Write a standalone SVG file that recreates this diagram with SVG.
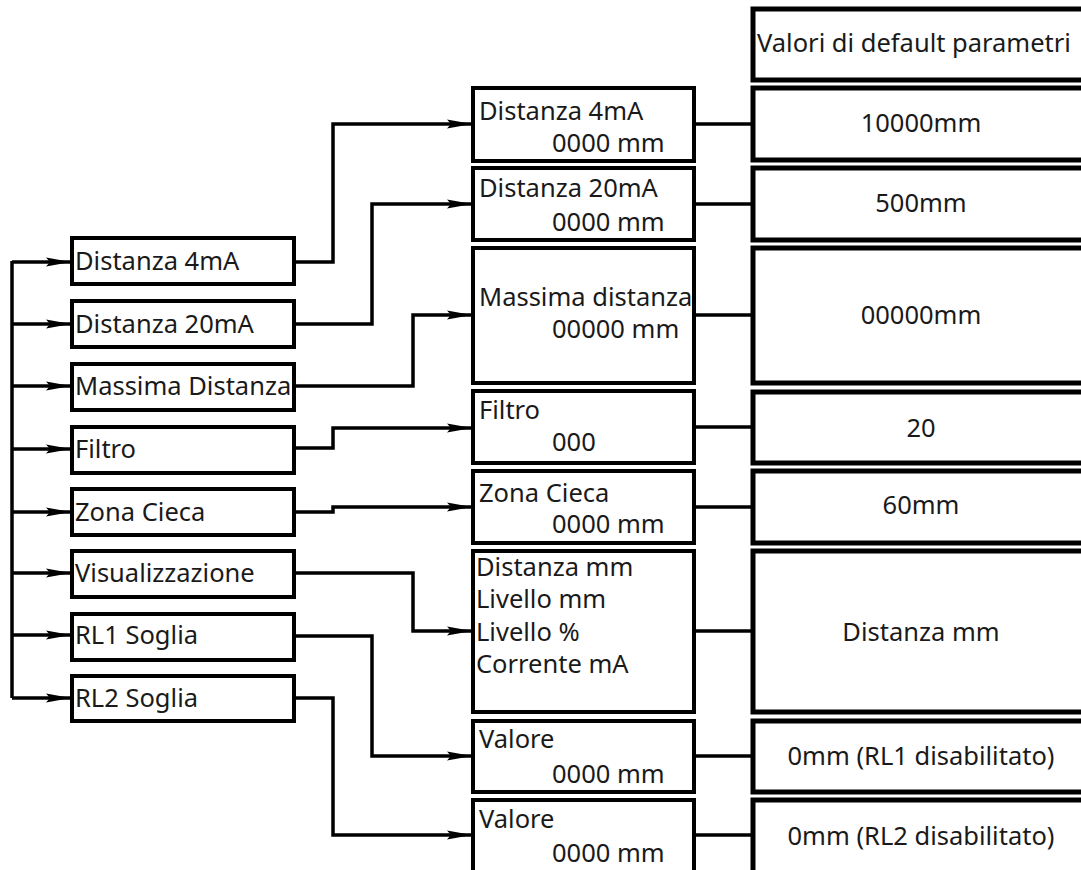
<svg xmlns="http://www.w3.org/2000/svg" width="1081" height="870" viewBox="0 0 1081 870">
<style>
.box{fill:#fff;stroke:#000;stroke-width:4}
.rbox{fill:#fff;stroke:#000;stroke-width:5}
.t{font-family:"Noto Sans","DejaVu Sans",sans-serif;font-size:25.5px;fill:#1a1a1a}
.c{text-anchor:middle}
.ln{fill:none;stroke:#000;stroke-width:3.5}
</style>
<defs>
<marker id="ah" markerUnits="userSpaceOnUse" markerWidth="26" markerHeight="12" refX="25" refY="6" orient="auto">
<path d="M0,1.5 L25,6 L0,10.5 L4,6 z" fill="#000"/>
</marker>
</defs>
<rect width="1081" height="870" fill="#fff"/>

<g id="connectors">
<polyline class="ln" points="12,261 12,698"/>
<line class="ln" x1="12" y1="262" x2="71" y2="262" marker-end="url(#ah)"/>
<line class="ln" x1="12" y1="324" x2="71" y2="324" marker-end="url(#ah)"/>
<line class="ln" x1="12" y1="386" x2="71" y2="386" marker-end="url(#ah)"/>
<line class="ln" x1="12" y1="449" x2="71" y2="449" marker-end="url(#ah)"/>
<line class="ln" x1="12" y1="512" x2="71" y2="512" marker-end="url(#ah)"/>
<line class="ln" x1="12" y1="573" x2="71" y2="573" marker-end="url(#ah)"/>
<line class="ln" x1="12" y1="635" x2="71" y2="635" marker-end="url(#ah)"/>
<line class="ln" x1="12" y1="698" x2="71" y2="698" marker-end="url(#ah)"/>

<polyline class="ln" points="295,262 333,262 333,124 472,124" marker-end="url(#ah)"/>
<polyline class="ln" points="295,324 372,324 372,204 472,204" marker-end="url(#ah)"/>
<polyline class="ln" points="295,386 413,386 413,315 472,315" marker-end="url(#ah)"/>
<polyline class="ln" points="295,448 333,448 333,428 472,428" marker-end="url(#ah)"/>
<polyline class="ln" points="295,512 333,512 333,507 472,507" marker-end="url(#ah)"/>
<polyline class="ln" points="295,573 413,573 413,631 472,631" marker-end="url(#ah)"/>
<polyline class="ln" points="295,636 372,636 372,756 472,756" marker-end="url(#ah)"/>
<polyline class="ln" points="295,698 333,698 333,835 472,835" marker-end="url(#ah)"/>

<line class="ln" x1="695" y1="124" x2="752" y2="124"/>
<line class="ln" x1="695" y1="204" x2="752" y2="204"/>
<line class="ln" x1="695" y1="315" x2="752" y2="315"/>
<line class="ln" x1="695" y1="427" x2="752" y2="427"/>
<line class="ln" x1="695" y1="507" x2="752" y2="507"/>
<line class="ln" x1="695" y1="631" x2="752" y2="631"/>
<line class="ln" x1="695" y1="756" x2="752" y2="756"/>
<line class="ln" x1="695" y1="835" x2="752" y2="835"/>
</g>

<g id="l1"><rect class="box" x="72" y="238" width="222" height="46"/><text class="t" x="75" y="270">Distanza 4mA</text></g>
<g id="l2"><rect class="box" x="72" y="301" width="222" height="46"/><text class="t" x="75" y="333">Distanza 20mA</text></g>
<g id="l3"><rect class="box" x="72" y="364" width="222" height="46"/><text class="t" x="75" y="395">Massima Distanza</text></g>
<g id="l4"><rect class="box" x="72" y="427" width="222" height="46"/><text class="t" x="75" y="458">Filtro</text></g>
<g id="l5"><rect class="box" x="72" y="489" width="222" height="46"/><text class="t" x="75" y="521">Zona Cieca</text></g>
<g id="l6"><rect class="box" x="72" y="551" width="222" height="46"/><text class="t" x="75" y="582">Visualizzazione</text></g>
<g id="l7"><rect class="box" x="72" y="614" width="222" height="46"/><text class="t" x="75" y="644">RL1 Soglia</text></g>
<g id="l8"><rect class="box" x="72" y="676" width="222" height="45"/><text class="t" x="75" y="707">RL2 Soglia</text></g>

<g id="m1"><rect class="box" x="473" y="88" width="221" height="73"/><text class="t" x="479" y="120">Distanza 4mA</text><text class="t" x="552" y="152">0000 mm</text></g>
<g id="m2"><rect class="box" x="473" y="168" width="221" height="72"/><text class="t" x="479" y="197">Distanza 20mA</text><text class="t" x="552" y="231">0000 mm</text></g>
<g id="m3"><rect class="box" x="473" y="248" width="221" height="135"/><text class="t" x="479" y="306">Massima distanza</text><text class="t" x="552" y="338">00000 mm</text></g>
<g id="m4"><rect class="box" x="473" y="391" width="221" height="72"/><text class="t" x="479" y="419">Filtro</text><text class="t" x="552" y="451">000</text></g>
<g id="m5"><rect class="box" x="473" y="471" width="221" height="72"/><text class="t" x="479" y="502">Zona Cieca</text><text class="t" x="552" y="533">0000 mm</text></g>
<g id="m6"><rect class="box" x="473" y="551" width="221" height="161"/><text class="t" x="476" y="576">Distanza mm</text><text class="t" x="476" y="608">Livello mm</text><text class="t" x="476" y="641">Livello %</text><text class="t" x="476" y="673">Corrente mA</text></g>
<g id="m7"><rect class="box" x="473" y="721" width="221" height="71"/><text class="t" x="479" y="748">Valore</text><text class="t" x="552" y="783">0000 mm</text></g>
<g id="m8"><rect class="box" x="473" y="800" width="221" height="75"/><text class="t" x="479" y="828">Valore</text><text class="t" x="552" y="862">0000 mm</text></g>

<g id="r0"><rect class="rbox" x="753" y="9" width="340" height="71"/><text class="t" x="757" y="52">Valori di default parametri</text></g>
<g id="r1"><rect class="rbox" x="753" y="88" width="340" height="72"/><text class="t c" x="921" y="132">10000mm</text></g>
<g id="r2"><rect class="rbox" x="753" y="168" width="340" height="72"/><text class="t c" x="921" y="212">500mm</text></g>
<g id="r3"><rect class="rbox" x="753" y="248" width="340" height="135"/><text class="t c" x="921" y="324">00000mm</text></g>
<g id="r4"><rect class="rbox" x="753" y="392" width="340" height="71"/><text class="t c" x="921" y="437">20</text></g>
<g id="r5"><rect class="rbox" x="753" y="471" width="340" height="72"/><text class="t c" x="921" y="514">60mm</text></g>
<g id="r6"><rect class="rbox" x="753" y="551" width="340" height="161"/><text class="t c" x="921" y="641">Distanza mm</text></g>
<g id="r7"><rect class="rbox" x="753" y="721" width="340" height="71"/><text class="t c" x="921" y="765">0mm (RL1 disabilitato)</text></g>
<g id="r8"><rect class="rbox" x="753" y="800" width="340" height="80"/><text class="t c" x="921" y="845">0mm (RL2 disabilitato)</text></g>
</svg>
